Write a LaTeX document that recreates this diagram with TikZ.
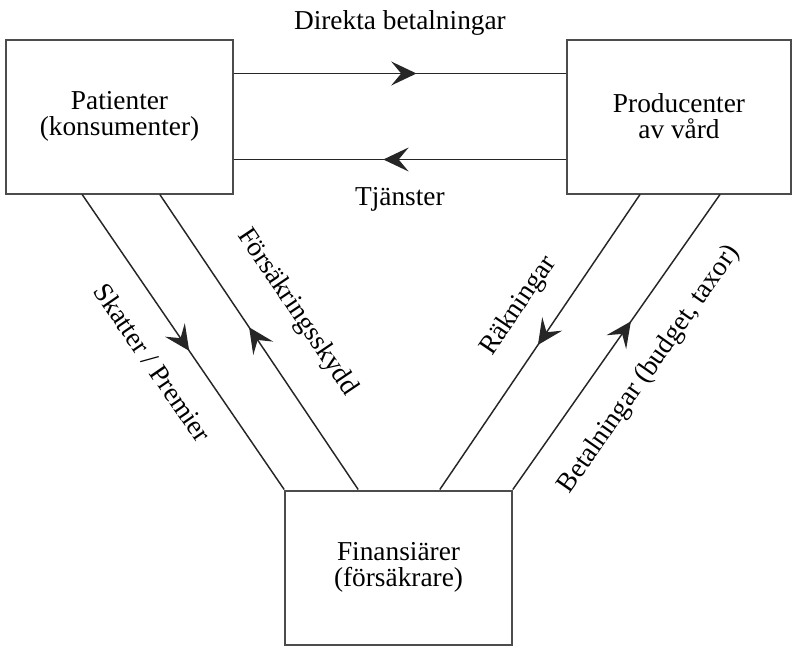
\documentclass[tikz,border=0pt]{standalone}
\usepackage{fontspec}
\setmainfont{Liberation Serif}
\usetikzlibrary{positioning}
\usetikzlibrary{calc,arrows.meta,decorations.markings}

\begin{document}
\begin{tikzpicture}[x=0.75pt, y=-0.75pt,
  every node/.style = {font=\fontsize{20.5}{19.5}\selectfont, align=center},
  party/.style = {draw=black!70, line width=1.5pt, shape=rectangle, inner sep=0pt,
    minimum width=170pt, minimum height=115.5pt},
  flow/.style = {draw=black!85, line width=1.1pt},
  flowtip/.style = {postaction={decorate}, decoration={markings,
    mark=at position #1 with {\arrow{Stealth[length=19pt,width=18pt,inset=7.5pt]}}}}
  ]
  \useasboundingbox (0,0) rectangle (794,646);
  \node[party] (pat) at (119.5,116.5) {Patienter\\(konsumenter)};
  \node[party, minimum width=168pt] (prod) at (679,116.5) {Producenter\\av vård};
  \node[party] (fin) at (398.5,567.5) {Finansiärer\\(försäkrare)};

  \coordinate (pat1) at ($(pat.north east)+(0,35)$);
  \coordinate (prod1) at ($(prod.north west)+(0,35)$);
  \coordinate (pat2) at ($(pat.south east)+(0,-35)$);
  \coordinate (prod2) at ($(prod.south west)+(0,-35)$);
  \coordinate (sk1) at ($(pat.south west)+(77,0)$);
  \coordinate (fo1) at ($(pat.south east)+(-74,0)$);
  \coordinate (ra1) at ($(prod.south west)+(74,0)$);
  \coordinate (be1) at ($(prod.south east)+(-72,0)$);
  \coordinate (fo2) at ($(fin.north west)+(74,0)$);
  \coordinate (ra2) at ($(fin.north east)+(-73,0)$);

  \draw[flow, flowtip=0.55] (pat1) -- (prod1);
  \draw[flow, flowtip=0.55] (prod2) -- (pat2);
  \node[above=-1.5pt] (lbldir) at ($(pat.north east)!0.5!(prod.north west)$) {Direkta betalningar};
  \node[yshift=-4pt] (lbltja) at ($(pat.south east)!0.5!(prod.south west)$) {Tjänster};

  \draw[flow, flowtip=0.53] (sk1) -- (fin.north west)
    node[sloped, pos=0.5, below=16.5pt] (lblsk) {Skatter / Premier};
  \draw[flow, flowtip=0.55] (fo2) -- (fo1)
    node[sloped, pos=0.51, above=23pt] (lblfo) {Försäkringsskydd};
  \draw[flow, flowtip=0.51] (ra1) -- (ra2)
    node[sloped, pos=0.45, above=15pt] (lblra) {Räkningar};
  \draw[flow, flowtip=0.57] (fin.north east) -- (be1)
    node[sloped, pos=0.49, below=19pt] (lblbe) {Betalningar (budget, taxor)};
\end{tikzpicture}
\end{document}
